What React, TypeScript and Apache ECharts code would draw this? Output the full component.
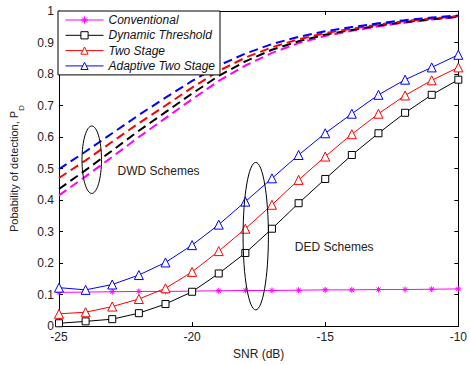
import React, { useEffect, useRef } from 'react';
import * as echarts from 'echarts';

// SNR (dB)
const snr = [-25, -24, -23, -22, -21, -20, -19, -18, -17, -16, -15, -14, -13, -12, -11, -10];

// DED schemes (solid lines with markers)
const conventionalDED = [0.107, 0.108, 0.109, 0.11, 0.11, 0.111, 0.112, 0.113, 0.113, 0.114, 0.115, 0.115, 0.116, 0.116, 0.117, 0.118];
const dynamicDED = [0.009, 0.015, 0.022, 0.041, 0.07, 0.109, 0.167, 0.232, 0.309, 0.39, 0.467, 0.543, 0.612, 0.677, 0.734, 0.782];
const twoStageDED = [0.039, 0.044, 0.062, 0.086, 0.12, 0.172, 0.238, 0.309, 0.385, 0.464, 0.538, 0.609, 0.674, 0.732, 0.78, 0.821];
const adaptiveDED = [0.122, 0.115, 0.132, 0.162, 0.202, 0.257, 0.322, 0.395, 0.469, 0.543, 0.612, 0.674, 0.734, 0.782, 0.821, 0.861];

// DWD schemes (dashed lines)
const conventionalDWD = [0.415, 0.475, 0.537, 0.6, 0.66, 0.72, 0.778, 0.827, 0.867, 0.898, 0.921, 0.937, 0.951, 0.963, 0.973, 0.981];
const dynamicDWD = [0.435, 0.495, 0.557, 0.62, 0.679, 0.738, 0.794, 0.84, 0.877, 0.904, 0.925, 0.94, 0.954, 0.965, 0.974, 0.982];
const twoStageDWD = [0.47, 0.526, 0.585, 0.644, 0.7, 0.757, 0.81, 0.852, 0.885, 0.91, 0.93, 0.944, 0.957, 0.968, 0.976, 0.984];
const adaptiveDWD = [0.498, 0.554, 0.612, 0.67, 0.725, 0.778, 0.827, 0.865, 0.895, 0.918, 0.936, 0.949, 0.961, 0.971, 0.979, 0.986];

const seriesNames = ['Conventional', 'Dynamic Threshold', 'Two Stage', 'Adaptive Two Stage'];

// annotation ellipses: [centre SNR, centre Pd, radius SNR, radius Pd]
const ellipseDWD = [-23.77, 0.528, 0.366, 0.107];
const ellipseDED = [-17.61, 0.2855, 0.476, 0.234];
// annotation texts: [SNR, Pd, label]
const annotationTexts: [number, number, string][] = [
  [-22.8, 0.492, 'DWD Schemes'],
  [-16.14, 0.252, 'DED Schemes'],
];

const FONT = '"Liberation Sans", Arial, sans-serif';
const asterisk = 'path://M5,0L5,10M0,5L10,5M1.5,1.5L8.5,8.5M1.5,8.5L8.5,1.5';

const pairs = (ys: number[]) => snr.map((x, i) => [x, ys[i]]);

export default function App() {
  const ref = useRef<HTMLDivElement>(null);
  useEffect(() => {
    const chart = echarts.init(ref.current!, null, { renderer: 'svg' });
    const axisLine = { show: true, onZero: false, lineStyle: { color: '#000', width: 1 } };
    const axisTick = { show: true, inside: true, length: 4, lineStyle: { color: '#000' } };
    const labelStyle = { color: '#222', fontSize: 12, fontFamily: FONT };

    const solid = (name: string, data: number[], color: string, symbol: string, size: number) => ({
      type: 'line',
      name,
      data: pairs(data),
      symbol,
      symbolSize: size,
      showAllSymbol: true,
      lineStyle: { color, width: 1 },
      itemStyle:
        symbol === asterisk
          ? { color, borderColor: color, borderWidth: 1 }
          : { color: '#fff', borderColor: color, borderWidth: 1 },
      z: 3,
    });
    const dashed = (name: string, data: number[], color: string) => ({
      type: 'line',
      name,
      data: pairs(data),
      showSymbol: false,
      symbol: 'none',
      lineStyle: { color, width: 2, type: [9, 5] },
      itemStyle: { color },
      z: 2,
    });

    const option: any = {
      animation: false,
      backgroundColor: '#fff',
      grid: { left: 58, right: 3, top: 11, bottom: 37, containLabel: false },
      legend: {
        data: seriesNames,
        orient: 'vertical',
        left: 58,
        top: 11,
        padding: [3, 5, 3, 7],
        itemWidth: 38,
        itemHeight: 9,
        itemGap: 3.3,
        backgroundColor: '#fff',
        borderColor: '#000',
        borderWidth: 1,
        selectedMode: false,
        itemStyle: { borderWidth: 1 },
        lineStyle: { width: 1 },
        textStyle: { fontStyle: 'italic', fontSize: 12, color: '#111', fontFamily: FONT },
      },
      xAxis: [
        {
          type: 'value',
          min: -25,
          max: -10,
          interval: 5,
          position: 'bottom',
          name: 'SNR (dB)',
          nameLocation: 'middle',
          nameGap: 21,
          nameTextStyle: { ...labelStyle },
          axisLine,
          axisTick,
          axisLabel: { ...labelStyle, margin: 5 },
          splitLine: { show: false },
        },
        {
          type: 'value',
          min: -25,
          max: -10,
          interval: 5,
          position: 'top',
          axisLine,
          axisTick,
          axisLabel: { show: false },
          splitLine: { show: false },
        },
      ],
      yAxis: [
        {
          type: 'value',
          min: 0,
          max: 1,
          interval: 0.1,
          position: 'left',
          name: '{a|Pobability of detection, P}{b|D}',
          nameLocation: 'middle',
          nameGap: 34,
          nameTextStyle: {
            rich: {
              a: { fontSize: 11, fontFamily: FONT, color: '#222', lineHeight: 14, verticalAlign: 'top' },
              b: { fontSize: 8, fontFamily: FONT, color: '#222', lineHeight: 17, verticalAlign: 'bottom' },
            },
          },
          axisLine,
          axisTick,
          axisLabel: { ...labelStyle, margin: 5 },
          splitLine: { show: false },
        },
        {
          type: 'value',
          min: 0,
          max: 1,
          interval: 0.1,
          position: 'right',
          axisLine,
          axisTick,
          axisLabel: { show: false },
          splitLine: { show: false },
        },
      ],
      series: [
        dashed('Conventional DWD', conventionalDWD, '#ff00ff'),
        dashed('Dynamic Threshold DWD', dynamicDWD, '#000000'),
        dashed('Two Stage DWD', twoStageDWD, '#ff0000'),
        dashed('Adaptive Two Stage DWD', adaptiveDWD, '#0000ff'),
        solid(seriesNames[0], conventionalDED, '#ff00ff', asterisk, 6),
        solid(seriesNames[1], dynamicDED, '#000000', 'rect', 7),
        solid(seriesNames[2], twoStageDED, '#ff0000', 'triangle', 9),
        solid(seriesNames[3], adaptiveDED, '#0000ff', 'triangle', 9),
        {
          type: 'custom',
          name: 'ellipses',
          data: [ellipseDWD, ellipseDED],
          z: 4,
          renderItem: (params: any, api: any) => {
            const e = params.dataIndex === 0 ? ellipseDWD : ellipseDED;
            const c = api.coord([e[0], e[1]]);
            const p = api.coord([e[0] + e[2], e[1] + e[3]]);
            return {
              type: 'ellipse',
              shape: { cx: c[0], cy: c[1], rx: Math.abs(p[0] - c[0]), ry: Math.abs(c[1] - p[1]) },
              style: { fill: 'none', stroke: '#000', lineWidth: 1 },
            };
          },
        },
        {
          type: 'custom',
          name: 'labels',
          data: annotationTexts.map((t) => [t[0], t[1]]),
          z: 4,
          renderItem: (params: any, api: any) => {
            const t = annotationTexts[params.dataIndex];
            const c = api.coord([t[0], t[1]]);
            return {
              type: 'text',
              x: c[0],
              y: c[1],
              style: {
                text: t[2],
                fill: '#222',
                font: `12px ${FONT}`,
                textAlign: 'left',
                textVerticalAlign: 'middle',
              },
            };
          },
        },
      ],
    };
    chart.setOption(option);
    return () => chart.dispose();
  }, []);
  return (
    <div
      ref={ref}
      style={{ position: 'fixed', left: 0, top: 0, width: 470, height: 365, background: '#fff' }}
    />
  );
}
